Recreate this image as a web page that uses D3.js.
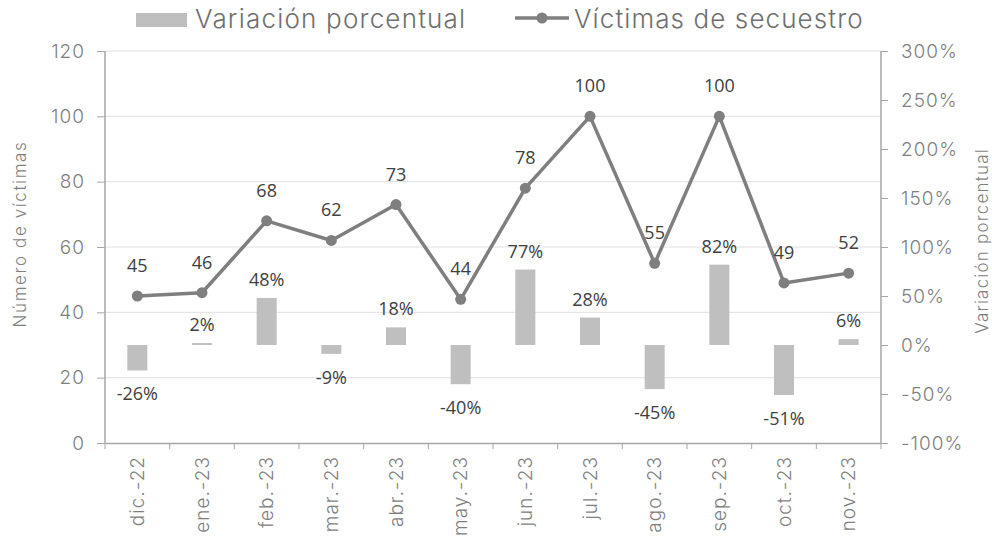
<!DOCTYPE html>
<html>
<head>
<meta charset="utf-8">
<script src="https://cdn.jsdelivr.net/npm/d3@7"></script>
<style>
  body { margin: 0; background: #fff; }
  .axis text { font-family: Inter, "Open Sans", sans-serif; font-weight: 300; fill: #7f7f7f; }
</style>
</head>
<body>
<div id="chart"></div>
<script>
// chart data
var months = ["dic.-22", "ene.-23", "feb.-23", "mar.-23", "abr.-23", "may.-23",
              "jun.-23", "jul.-23", "ago.-23", "sep.-23", "oct.-23", "nov.-23"];
var victims = [45, 46, 68, 62, 73, 44, 78, 100, 55, 100, 49, 52];
var pctChange = [-0.26, 0.02, 0.48, -0.09, 0.18, -0.40, 0.77, 0.28, -0.45, 0.82, -0.51, 0.06];
var leftTicks = [0, 20, 40, 60, 80, 100, 120];
var rightTicks = [-1, -0.5, 0, 0.5, 1, 1.5, 2, 2.5, 3];

var width = 992, height = 539;
var margin = {top: 51, right: 111, bottom: 96, left: 105};

var barColor = "#bfbfbf";
var lineColor = "#7f7f7f";
var axisColor = "#a6a6a6";
var gridColor = "#e0e0e0";
var labelColor = "#404040";
var axisFont = "Inter, 'Open Sans', sans-serif";
var labelFont = "'Open Sans', 'Liberation Sans', sans-serif";

var svg = d3.select("#chart").append("svg")
  .attr("width", width)
  .attr("height", height);

var x = d3.scaleBand()
  .domain(months)
  .range([margin.left, width - margin.right]);

var yLeft = d3.scaleLinear()
  .domain([0, 120])
  .range([height - margin.bottom, margin.top]);

var yRight = d3.scaleLinear()
  .domain([-1, 3])
  .range([height - margin.bottom, margin.top]);

// gridlines
svg.append("g")
  .selectAll("line")
  .data(leftTicks.slice(1))
  .enter().append("line")
  .attr("x1", margin.left)
  .attr("x2", width - margin.right)
  .attr("y1", function(d) { return yLeft(d); })
  .attr("y2", function(d) { return yLeft(d); })
  .attr("stroke", gridColor)
  .attr("stroke-width", 1);

// bars
var barW = 20;
svg.append("g")
  .selectAll("rect")
  .data(pctChange)
  .enter().append("rect")
  .attr("x", function(d, i) { return x(months[i]) + x.bandwidth() / 2 - barW / 2; })
  .attr("y", function(d) { return yRight(Math.max(0, d)); })
  .attr("width", barW)
  .attr("height", function(d) { return Math.abs(yRight(d) - yRight(0)); })
  .attr("fill", barColor);

// bar labels
svg.append("g")
  .selectAll("text")
  .data(pctChange)
  .enter().append("text")
  .attr("x", function(d, i) { return x(months[i]) + x.bandwidth() / 2; })
  .attr("y", function(d) { return d >= 0 ? yRight(d) - 12 : yRight(d) + 30; })
  .attr("text-anchor", "middle")
  .style("font-family", labelFont)
  .style("font-size", "18px")
  .style("fill", labelColor)
  .text(function(d) { return Math.round(d * 100) + "%"; });

// line
var line = d3.line()
  .x(function(d, i) { return x(months[i]) + x.bandwidth() / 2; })
  .y(function(d) { return yLeft(d); });

svg.append("path")
  .datum(victims)
  .attr("d", line)
  .attr("fill", "none")
  .attr("stroke", lineColor)
  .attr("stroke-width", 3.5)
  .attr("stroke-linejoin", "round");

svg.append("g")
  .selectAll("circle")
  .data(victims)
  .enter().append("circle")
  .attr("cx", function(d, i) { return x(months[i]) + x.bandwidth() / 2; })
  .attr("cy", function(d) { return yLeft(d); })
  .attr("r", 5.5)
  .attr("fill", lineColor);

svg.append("g")
  .selectAll("text")
  .data(victims)
  .enter().append("text")
  .attr("x", function(d, i) { return x(months[i]) + x.bandwidth() / 2; })
  .attr("y", function(d) { return yLeft(d) - 24; })
  .attr("text-anchor", "middle")
  .style("font-family", labelFont)
  .style("font-size", "18px")
  .style("fill", labelColor)
  .text(function(d) { return d; });

// axes
var leftAxis = svg.append("g")
  .attr("class", "axis")
  .attr("transform", "translate(" + margin.left + ",0)")
  .call(d3.axisLeft(yLeft).tickValues(leftTicks).tickSize(8).tickPadding(12));

var rightAxis = svg.append("g")
  .attr("class", "axis")
  .attr("transform", "translate(" + (width - margin.right) + ",0)")
  .call(d3.axisRight(yRight).tickValues(rightTicks).tickSize(7).tickPadding(13)
    .tickFormat(function(d) { return Math.round(d * 100) + "%"; }));

var xAxis = svg.append("g")
  .attr("class", "axis")
  .attr("transform", "translate(0," + (height - margin.bottom) + ")")
  .call(d3.axisBottom(x).tickSize(0).tickPadding(0));

// tick marks on band boundaries
xAxis.selectAll(".bound")
  .data(months.concat(["end"]))
  .enter().append("line")
  .attr("class", "bound")
  .attr("x1", function(d, i) { return margin.left + i * x.bandwidth(); })
  .attr("x2", function(d, i) { return margin.left + i * x.bandwidth(); })
  .attr("y1", 0)
  .attr("y2", 6)
  .attr("stroke", axisColor);

xAxis.selectAll(".tick text")
  .attr("transform", "rotate(-90)")
  .attr("x", -13)
  .attr("y", 0)
  .attr("dy", "0.35em")
  .style("text-anchor", "end");

[leftAxis, rightAxis, xAxis].forEach(function(g) {
  g.select(".domain").attr("stroke", axisColor).attr("stroke-width", 1.5);
  g.selectAll(".tick line").attr("stroke", axisColor);
  g.selectAll(".tick text").style("font-size", "19px").style("letter-spacing", "1px");
});
leftAxis.select(".domain").attr("d", "M0," + yLeft(120) + "V" + yLeft(0));
rightAxis.select(".domain").attr("d", "M0," + yRight(3) + "V" + yRight(-1));

// axis titles
svg.append("text")
  .attr("transform", "translate(26," + 234 + ") rotate(-90)")
  .attr("text-anchor", "middle")
  .style("font-family", axisFont)
  .style("font-weight", 300)
  .style("font-size", "17px")
  .style("letter-spacing", "1.6px")
  .style("fill", "#7f7f7f")
  .text("Número de víctimas");

svg.append("text")
  .attr("transform", "translate(988," + 241 + ") rotate(-90)")
  .attr("text-anchor", "middle")
  .style("font-family", axisFont)
  .style("font-weight", 300)
  .style("font-size", "17px")
  .style("letter-spacing", "1.2px")
  .style("fill", "#7f7f7f")
  .text("Variación porcentual");

// legend
var legend = svg.append("g");
legend.append("rect")
  .attr("x", 136).attr("y", 13)
  .attr("width", 51).attr("height", 14)
  .attr("fill", barColor);
legend.append("text")
  .attr("x", 195).attr("y", 28)
  .style("font-family", axisFont)
  .style("font-weight", 300)
  .style("font-size", "26px")
  .style("letter-spacing", "1.2px")
  .style("fill", "#6f6f6f")
  .text("Variación porcentual");
legend.append("line")
  .attr("x1", 515).attr("x2", 569)
  .attr("y1", 18).attr("y2", 18)
  .attr("stroke", lineColor).attr("stroke-width", 3.5);
legend.append("circle")
  .attr("cx", 542).attr("cy", 18).attr("r", 5.5)
  .attr("fill", lineColor);
legend.append("text")
  .attr("x", 574).attr("y", 28)
  .style("font-family", axisFont)
  .style("font-weight", 300)
  .style("font-size", "26px")
  .style("letter-spacing", "1.1px")
  .style("fill", "#6f6f6f")
  .text("Víctimas de secuestro");
</script>
</body>
</html>
